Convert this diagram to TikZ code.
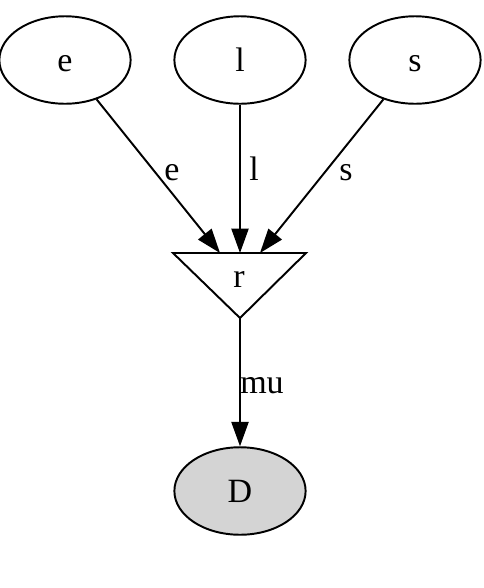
\documentclass[tikz,border=0pt]{standalone}
\usepackage{fontspec}
\setmainfont{Liberation Serif}
\usetikzlibrary{arrows.meta,shapes.geometric}

\begin{document}
\begin{tikzpicture}[x=0.4115pt,y=-0.4115pt,
  font=\fontsize{14}{16}\selectfont,
  var/.style={draw,ellipse,line width=0.8pt,minimum width=54pt,minimum height=36pt,inner sep=0pt,text height=9.3pt,text depth=0pt},
  obs/.style={var,fill=black!17},
  edge/.style={line width=0.8pt,-{Triangle[length=10pt,width=7pt]}},
  lbl/.style={inner sep=0pt,text height=9.3pt,text depth=0pt}]
\useasboundingbox (0,0) rectangle (484,588);

\node[var] (e) at (65,60) {e};
\node[var] (l) at (240,60) {l};
\node[var] (s) at (415,60) {s};

% the inverted triangle for r
\draw[line width=0.8pt] (173,253) -- (306,253) -- (240,318) -- cycle;
\node[lbl] (r) at (239,276) {r};
\coordinate (re) at (220,253);
\coordinate (rl) at (240,253);
\coordinate (rs) at (260,253);
\coordinate (rb) at (240,318);

\node[obs] (D) at (240,491) {D};

\draw[edge] (e) -- (re);
\draw[edge] (l) -- (rl);
\draw[edge] (s) -- (rs);
\draw[edge] (rb) -- (D);

\node[lbl] (le) at (172,169) {e};
\node[lbl] (ll) at (254,169) {l};
\node[lbl] (ls) at (346,169) {s};
\node[lbl] (lmu) at (262,382) {mu};
\end{tikzpicture}
\end{document}
